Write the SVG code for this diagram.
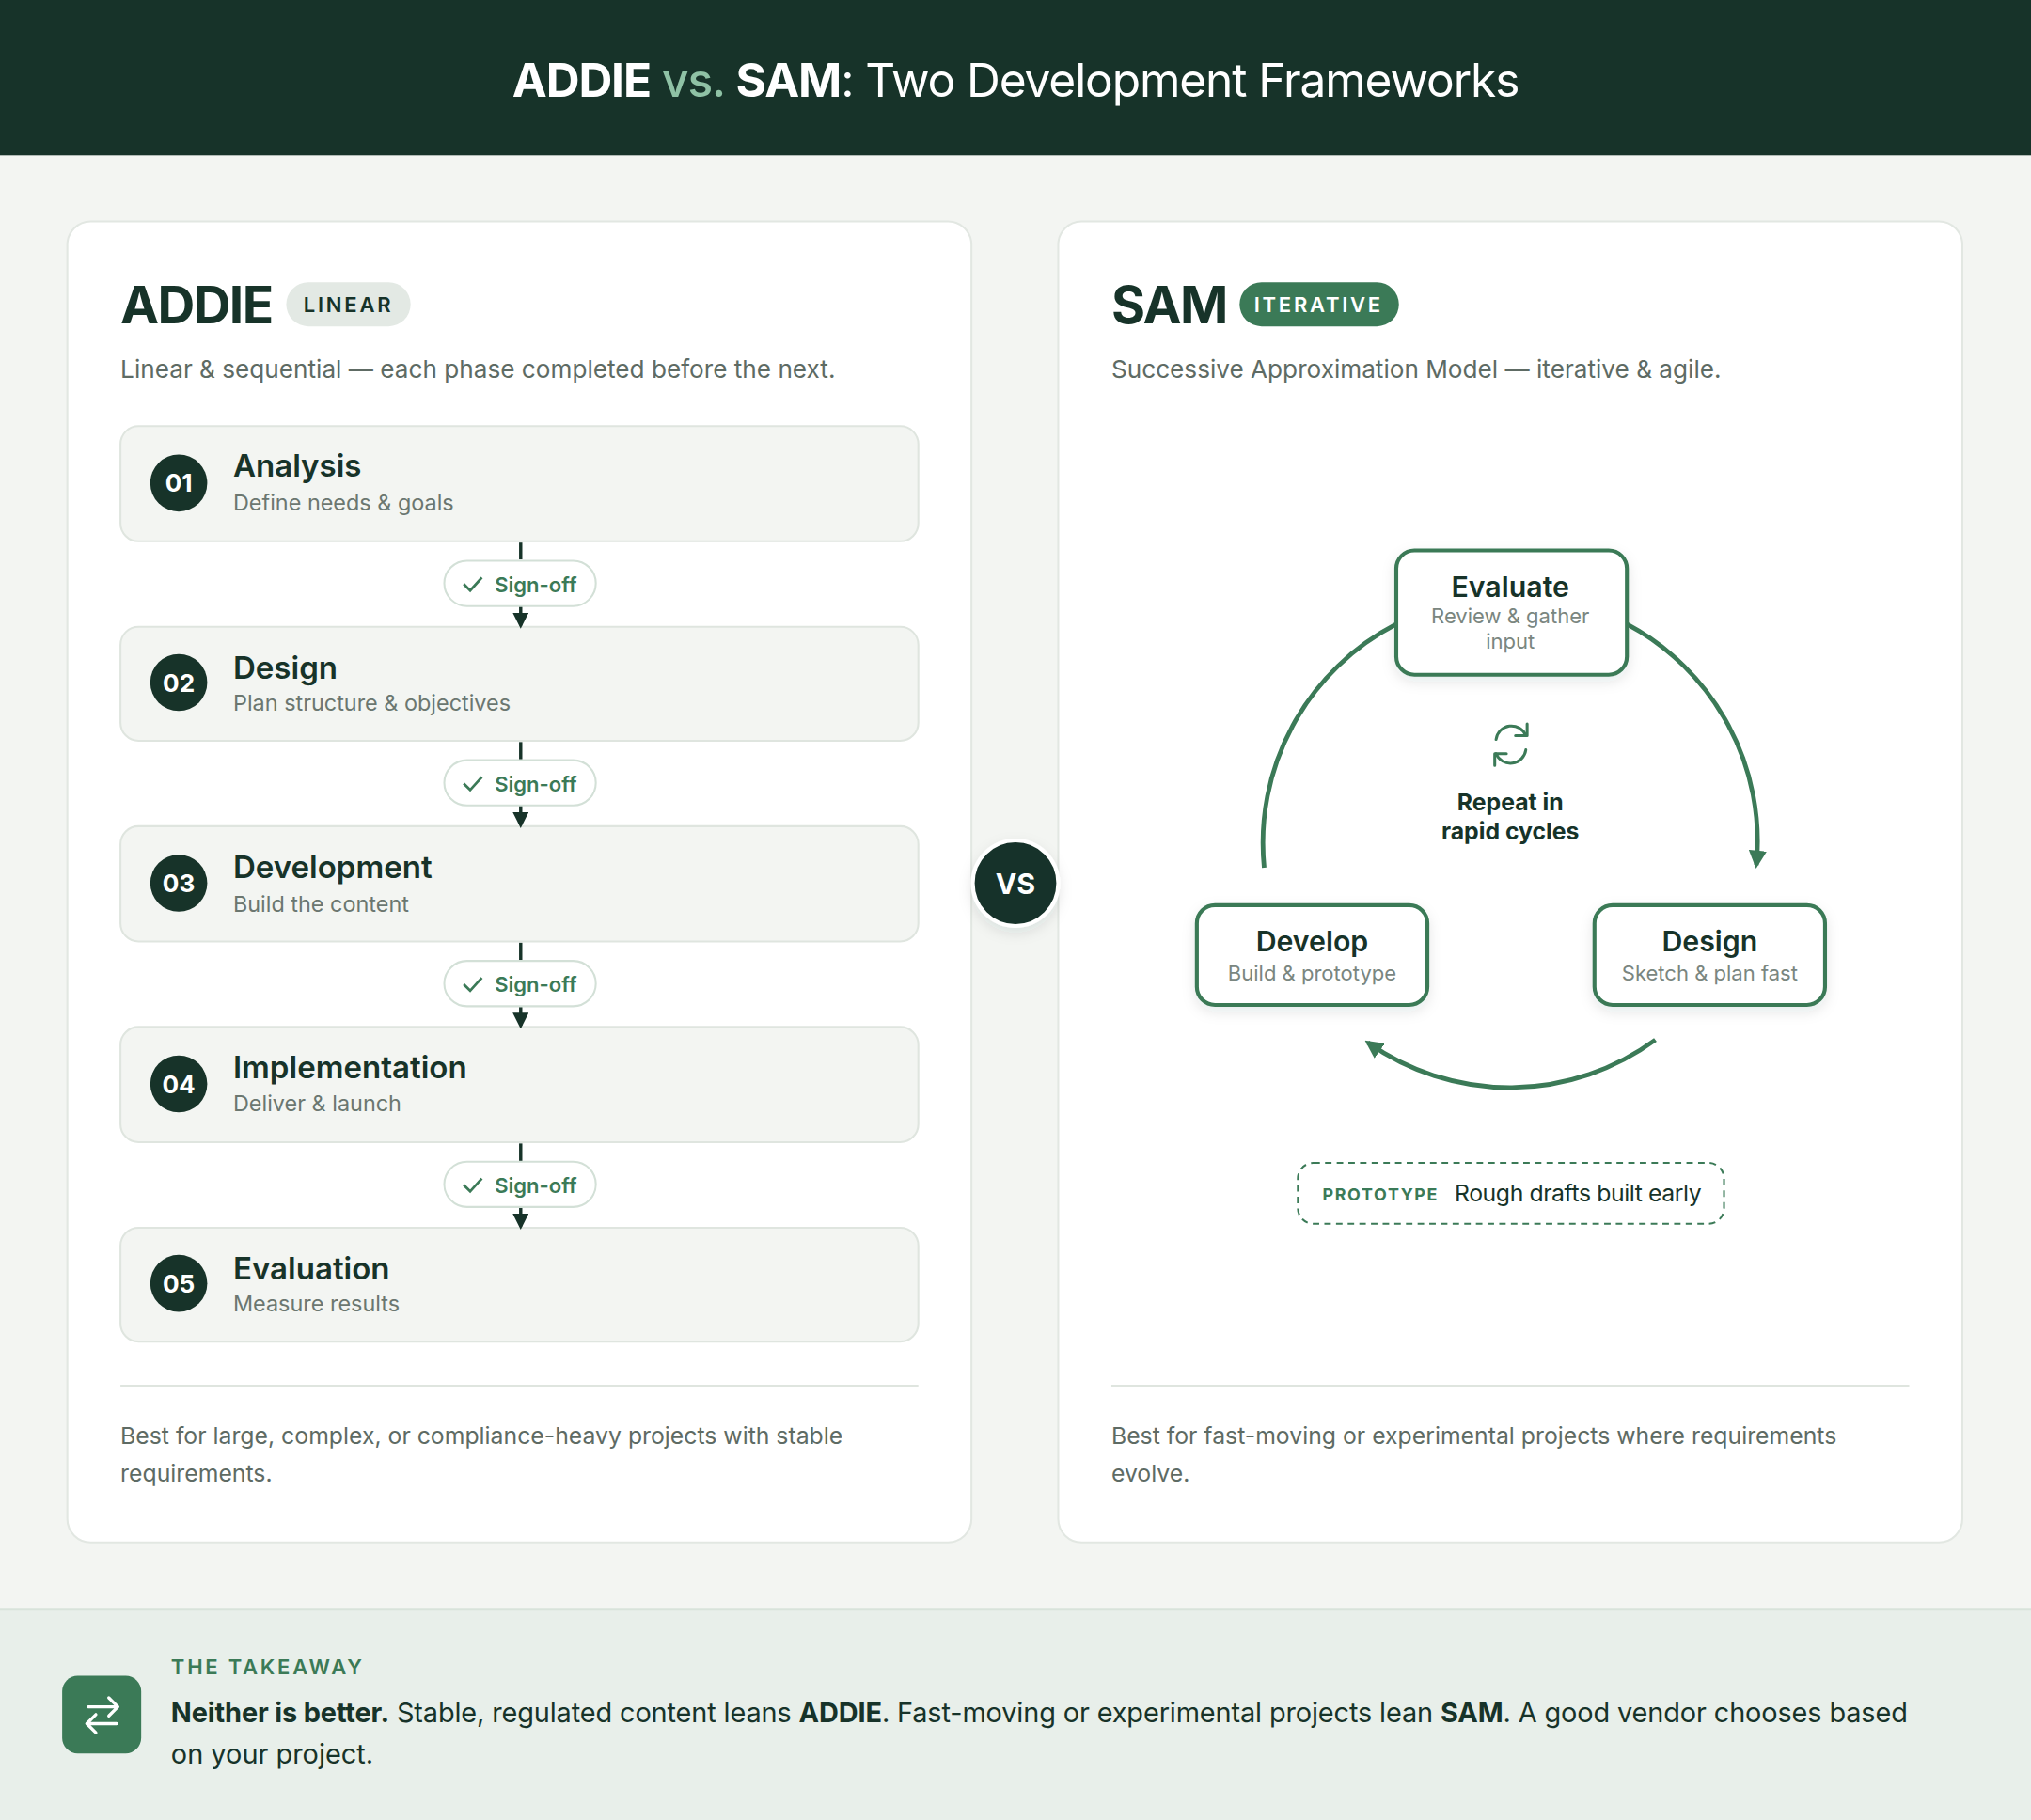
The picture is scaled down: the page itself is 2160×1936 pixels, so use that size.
<svg xmlns="http://www.w3.org/2000/svg" width="2160" height="1936" viewBox="0 0 2160 1936">
<defs>
<style>
text{font-family:Inter,"Noto Sans",sans-serif}
.card{fill:#fff;stroke:#e2e7e2;stroke-width:1.5}
.phase{fill:#f3f5f2;stroke:#dfe5df;stroke-width:1.5}
.num{fill:#fff;font-size:19px;font-weight:700;text-anchor:middle}
.pt{fill:#173329;font-size:24px;font-weight:600}
.ps{fill:#6b7770;font-size:17px}
.pill{fill:#fff;stroke:#d3e0d7;stroke-width:1.5}
.so{fill:#3b7a57;font-size:16px;font-weight:600}
.conn{stroke:#173329;stroke-width:2.5}
.cyc{fill:#fff;stroke:#3b7a57;stroke-width:3}
.ct{fill:#173329;font-size:22px;font-weight:600;text-anchor:middle}
.cs{fill:#7a8680;font-size:16px;text-anchor:middle}
.arc{fill:none;stroke:#3b7a57;stroke-width:3.5}
.foot{fill:#5e6b64;font-size:18px}
</style>
<marker id="ah" viewBox="0 0 10 10" refX="8" refY="5" markerWidth="4" markerHeight="4" orient="auto"><path d="M0,0L10,5L0,10z" fill="#3b7a57"/></marker>
<marker id="dh" viewBox="0 0 10 10" refX="8" refY="5" markerWidth="5" markerHeight="5" orient="auto"><path d="M0,0L10,5L0,10z" fill="#173329"/></marker>
<filter id="sh" x="-20%" y="-20%" width="140%" height="150%"><feDropShadow dx="0" dy="4" stdDeviation="5" flood-color="#173329" flood-opacity="0.1"/></filter>
</defs>
<g transform="scale(1.37755)">
<rect width="1568" height="1406" fill="#f3f5f2"/>
<g id="header">
<rect width="1568" height="120" fill="#173329"/>
<text x="784" y="75" text-anchor="middle" font-size="36" fill="#fff" letter-spacing="-0.8"><tspan font-weight="700">ADDIE</tspan><tspan fill="#8fc2a5" font-weight="500"> vs. </tspan><tspan font-weight="700">SAM</tspan><tspan>: Two Development Frameworks</tspan></text>
</g>
<g id="addie-card">
<rect class="card" x="52" y="171" width="698" height="1020" rx="18"/>
<text x="93" y="250" font-size="40" font-weight="700" fill="#173329" letter-spacing="-1.2">ADDIE</text>
<rect x="221" y="218" width="96" height="34" rx="17" fill="#e3e9e4"/>
<text x="269" y="241" text-anchor="middle" font-size="16" font-weight="600" fill="#173329" letter-spacing="2">LINEAR</text>
<text x="93" y="292" font-size="19" fill="#5e6b64">Linear &amp; sequential — each phase completed before the next.</text>
<line x1="93" y1="1070" x2="709" y2="1070" stroke="#dfe5df" stroke-width="1.5"/>
<text class="foot" x="93" y="1115">Best for large, complex, or compliance-heavy projects with stable</text>
<text class="foot" x="93" y="1144">requirements.</text>
</g>
<g id="sam-card">
<rect class="card" x="817" y="171" width="698" height="1020" rx="18"/>
<text x="858" y="250" font-size="40" font-weight="700" fill="#173329" letter-spacing="-1.2">SAM</text>
<rect x="957" y="218" width="123" height="34" rx="17" fill="#3b7a57"/>
<text x="1018" y="241" text-anchor="middle" font-size="16" font-weight="600" fill="#fff" letter-spacing="2">ITERATIVE</text>
<text x="858" y="292" font-size="19" fill="#5e6b64">Successive Approximation Model — iterative &amp; agile.</text>
<line x1="858" y1="1070" x2="1474" y2="1070" stroke="#dfe5df" stroke-width="1.5"/>
<text class="foot" x="858" y="1115">Best for fast-moving or experimental projects where requirements</text>
<text class="foot" x="858" y="1144">evolve.</text>
</g>
<g id="phase1"><rect class="phase" x="93" y="329" width="616" height="89" rx="14"/><circle cx="138" cy="373" r="22" fill="#173329"/><text class="num" x="138" y="380">01</text><text class="pt" x="180" y="368">Analysis</text><text class="ps" x="180" y="394">Define needs &amp; goals</text></g>
<g id="phase2"><rect class="phase" x="93" y="484" width="616" height="88" rx="14"/><circle cx="138" cy="527" r="22" fill="#173329"/><text class="num" x="138" y="534">02</text><text class="pt" x="180" y="524">Design</text><text class="ps" x="180" y="549">Plan structure &amp; objectives</text></g>
<g id="phase3"><rect class="phase" x="93" y="638" width="616" height="89" rx="14"/><circle cx="138" cy="682" r="22" fill="#173329"/><text class="num" x="138" y="689">03</text><text class="pt" x="180" y="678">Development</text><text class="ps" x="180" y="704">Build the content</text></g>
<g id="phase4"><rect class="phase" x="93" y="793" width="616" height="89" rx="14"/><circle cx="138" cy="837" r="22" fill="#173329"/><text class="num" x="138" y="844">04</text><text class="pt" x="180" y="833">Implementation</text><text class="ps" x="180" y="858">Deliver &amp; launch</text></g>
<g id="phase5"><rect class="phase" x="93" y="948" width="616" height="88" rx="14"/><circle cx="138" cy="991" r="22" fill="#173329"/><text class="num" x="138" y="998">05</text><text class="pt" x="180" y="988">Evaluation</text><text class="ps" x="180" y="1013">Measure results</text></g>
<g id="connectors">
<g><line class="conn" x1="402" y1="419" x2="402" y2="432"/><line class="conn" x1="402" y1="468" x2="402" y2="483" marker-end="url(#dh)"/><rect class="pill" x="343" y="433" width="117" height="35" rx="17.5"/><path d="M358,451l5,5l9,-10" fill="none" stroke="#3b7a57" stroke-width="2"/><text class="so" x="382" y="457">Sign-off</text></g>
<g><line class="conn" x1="402" y1="573" x2="402" y2="587"/><line class="conn" x1="402" y1="622" x2="402" y2="637" marker-end="url(#dh)"/><rect class="pill" x="343" y="587" width="117" height="35" rx="17.5"/><path d="M358,605l5,5l9,-10" fill="none" stroke="#3b7a57" stroke-width="2"/><text class="so" x="382" y="611">Sign-off</text></g>
<g><line class="conn" x1="402" y1="728" x2="402" y2="742"/><line class="conn" x1="402" y1="777" x2="402" y2="792" marker-end="url(#dh)"/><rect class="pill" x="343" y="742" width="117" height="35" rx="17.5"/><path d="M358,760l5,5l9,-10" fill="none" stroke="#3b7a57" stroke-width="2"/><text class="so" x="382" y="766">Sign-off</text></g>
<g><line class="conn" x1="402" y1="883" x2="402" y2="897"/><line class="conn" x1="402" y1="932" x2="402" y2="947" marker-end="url(#dh)"/><rect class="pill" x="343" y="897" width="117" height="35" rx="17.5"/><path d="M358,915l5,5l9,-10" fill="none" stroke="#3b7a57" stroke-width="2"/><text class="so" x="382" y="921">Sign-off</text></g>
<path class="arc" d="M976,670 A190,190 0 0 1 1078,482"/>
<path class="arc" d="M1256,482 A190,190 0 0 1 1356,668" marker-end="url(#ah)"/>
<path class="arc" d="M1278,803 A190,190 0 0 1 1056,805" marker-end="url(#ah)"/>
</g>
<g id="evaluate"><rect class="cyc" x="1078" y="425" width="178" height="96" rx="14" filter="url(#sh)"/><text class="ct" x="1166" y="461">Evaluate</text><text class="cs" x="1166" y="481">Review &amp; gather</text><text class="cs" x="1166" y="501">input</text></g>
<g id="develop"><rect class="cyc" x="924" y="699" width="178" height="77" rx="14" filter="url(#sh)"/><text class="ct" x="1013" y="735">Develop</text><text class="cs" x="1013" y="757">Build &amp; prototype</text></g>
<g id="design"><rect class="cyc" x="1231" y="699" width="178" height="77" rx="14" filter="url(#sh)"/><text class="ct" x="1320" y="735">Design</text><text class="cs" x="1320" y="757">Sketch &amp; plan fast</text></g>
<g id="repeat">
<g fill="none" stroke="#3b7a57" stroke-width="2.2" stroke-linecap="round" stroke-linejoin="round">
<path d="M1155,571 A12,12 0 0 1 1178,568"/><path d="M1179,559v9h-9"/>
<path d="M1178,579 A12,12 0 0 1 1155,582"/><path d="M1154,591v-9h9"/>
</g>
<text x="1166" y="626" text-anchor="middle" font-size="18" font-weight="700" fill="#173329">Repeat in</text>
<text x="1166" y="648" text-anchor="middle" font-size="18" font-weight="700" fill="#173329">rapid cycles</text>
</g>
<g id="prototype">
<rect x="1002" y="898" width="329" height="47" rx="12" fill="#fff" stroke="#3b7a57" stroke-width="1.5" stroke-dasharray="5 4"/>
<text x="1021" y="927" font-family="'DejaVu Sans Mono',monospace" font-size="13" font-weight="700" fill="#3b7a57" letter-spacing="1.2">PROTOTYPE</text>
<text x="1123" y="928" font-size="18" fill="#173329" letter-spacing="-0.3">Rough drafts built early</text>
</g>
<g id="vs"><circle cx="784" cy="682" r="33" fill="#173329" stroke="#fff" stroke-width="3" filter="url(#sh)"/><text x="784" y="690" text-anchor="middle" font-size="22" font-weight="700" fill="#fff">VS</text></g>
<g id="takeaway">
<rect x="0" y="1243" width="1568" height="163" fill="#e8efea"/>
<line x1="0" y1="1243" x2="1568" y2="1243" stroke="#d8e3db" stroke-width="1.5"/>
<rect x="48" y="1294" width="61" height="60" rx="12" fill="#3b7a57"/>
<g fill="none" stroke="#fff" stroke-width="2.4" stroke-linecap="round" stroke-linejoin="round"><path d="M68,1318h23M84,1311l7,7l-7,7"/><path d="M90,1331h-23M74,1324l-7,7l7,7"/></g>
<text x="132" y="1293" font-size="16" font-weight="600" fill="#3b7a57" letter-spacing="2">THE TAKEAWAY</text>
<text x="132" y="1330" font-size="21" fill="#173329" letter-spacing="-0.1"><tspan font-weight="700">Neither is better.</tspan> Stable, regulated content leans <tspan font-weight="700">ADDIE</tspan>. Fast-moving or experimental projects lean <tspan font-weight="700">SAM</tspan>. A good vendor chooses based</text>
<text x="132" y="1362" font-size="21" fill="#173329">on your project.</text>
</g>
</g>
</svg>
